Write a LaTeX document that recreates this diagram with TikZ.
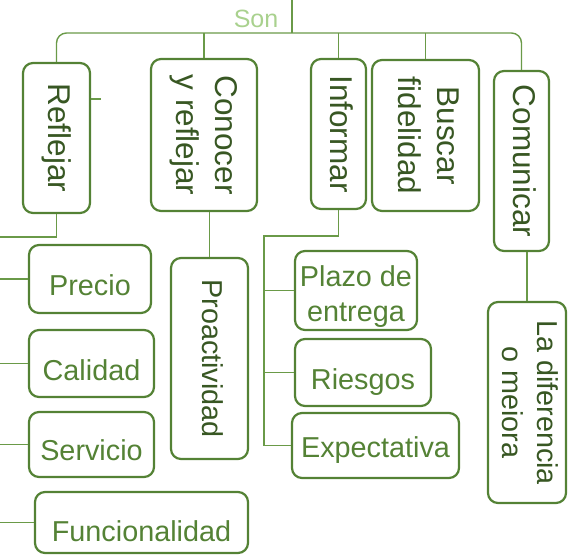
\documentclass[tikz,border=0pt]{standalone}
\usepackage{fontspec}
\setmainfont{Liberation Sans}
\usepackage{graphicx}
\usepackage{tikz}

\definecolor{boxgreen}{HTML}{548235}
\definecolor{darkgreen}{HTML}{385723}
\definecolor{songreen}{HTML}{A9D18E}
\definecolor{linegreen}{HTML}{6A9A48}

\newcommand{\topfont}{\fontsize{31.5}{39}\selectfont}
\newcommand{\bigfont}{\fontsize{28.8}{35}\selectfont}
\newcommand{\vtext}[1]{\rotatebox{-90}{\begin{tabular}{@{}c@{}}#1\end{tabular}}}
\newcommand{\lowered}[2]{\raisebox{-#1pt}[0.716em][0pt]{#2}}

\tikzset{
    box/.style={draw=boxgreen, line width=2.2pt, rounded corners=10pt, inner sep=0pt, text=boxgreen, font=\bigfont},
    vbox/.style={box, text=darkgreen},
    topbox/.style={vbox, font=\topfont},
    conn/.style={draw=linegreen, line width=1.4pt}
}

\begin{document}
\begin{tikzpicture}[x=1pt, y=-1pt]
            \useasboundingbox (0, 0) rectangle (571, 556);

            % Son
            \node[font=\fontsize{25}{30}\selectfont, text=songreen, inner sep=0pt] (son) at (256, 19) {Son};
            \coordinate (sontop) at (292, 0);
            \coordinate (bus) at (292, 33);

            % top row
            \node[topbox, minimum width=67, minimum height=150] (refl) at (56.5, 138) {\vtext{Reflejar}};
            \node[topbox, minimum width=106, minimum height=152] (cono) at (204, 135) {\vtext{Conocer\\y reflejar}};
            \node[topbox, minimum width=55, minimum height=150] (info) at (338.5, 134) {\vtext{Informar}};
            \node[topbox, minimum width=107, minimum height=151] (busc) at (425.5, 135.5) {\vtext{Buscar\\fidelidad}};
            \node[topbox, minimum width=55, minimum height=180] (comu) at (521.5, 161) {\vtext{Comunicar}};
            \draw[conn] (sontop) -- (bus);
            \draw[conn, rounded corners=10pt] (refl.north) |- (bus) -| (comu.north);
            \draw[conn] (cono.north) -- (cono.north |- bus);
            \draw[conn] (info.north) -- (info.north |- bus);
            \draw[conn] (busc.north) -- (busc.north |- bus);
            \coordinate (tick) at (101, 99);
            \draw[conn] (refl.east |- tick) -- (tick);

            % Reflejar
            \coordinate (lfork) at (0, 237);
            \node[box, minimum width=122, minimum height=68] (prec) at (90, 279) {\lowered{6.5}{Precio}};
            \node[box, minimum width=125, minimum height=67] (cali) at (91.5, 363.5) {\lowered{6.5}{Calidad}};
            \node[box, minimum width=125, minimum height=65] (serv) at (91.5, 444.5) {\lowered{5.5}{Servicio}};
            \node[box, minimum width=213, minimum height=61] (func) at (141.5, 522.5) {\lowered{9}{Funcionalidad}};
            \draw[conn] (refl.south) |- (lfork);
            \draw[conn] (prec.west) -- (prec.west -| lfork);
            \draw[conn] (cali.west) -- (cali.west -| lfork);
            \draw[conn] (serv.west) -- (serv.west -| lfork);
            \draw[conn] (func.west) -- (func.west -| lfork);

            % Conocer y reflejar
            \node[vbox, minimum width=77, minimum height=201] (proa) at (209.5, 358.5) {\vtext{Proactividad}};
            \draw[conn] (proa.north) -- (proa.north |- cono.south);

            % Informar
            \coordinate (rtrunk) at (264, 236);
            \node[box, minimum width=122, minimum height=79] (plaz) at (356, 290.5) {\raisebox{-7pt}[\height][\depth]{\begin{tabular}{@{}c@{}}Plazo de\\entrega\end{tabular}}};
            \node[box, minimum width=136, minimum height=67] (ries) at (363, 372.5) {\lowered{7}{Riesgos}};
            \node[box, minimum width=167, minimum height=65] (expe) at (375.5, 445.5) {\lowered{1.5}{Expectativa}};
            \draw[conn] (info.south) |- (rtrunk) |- (expe.west);
            \draw[conn] (rtrunk |- plaz.west) -- (plaz.west);
            \draw[conn] (rtrunk |- ries.west) -- (ries.west);

            % Comunicar
            \node[vbox, minimum width=78, minimum height=201] (dife) at (527, 402.5) {\vtext{La diferencia\\o meiora}};
            \draw[conn] (dife.north) -- (dife.north |- comu.south);
        \end{tikzpicture}
\end{document}
